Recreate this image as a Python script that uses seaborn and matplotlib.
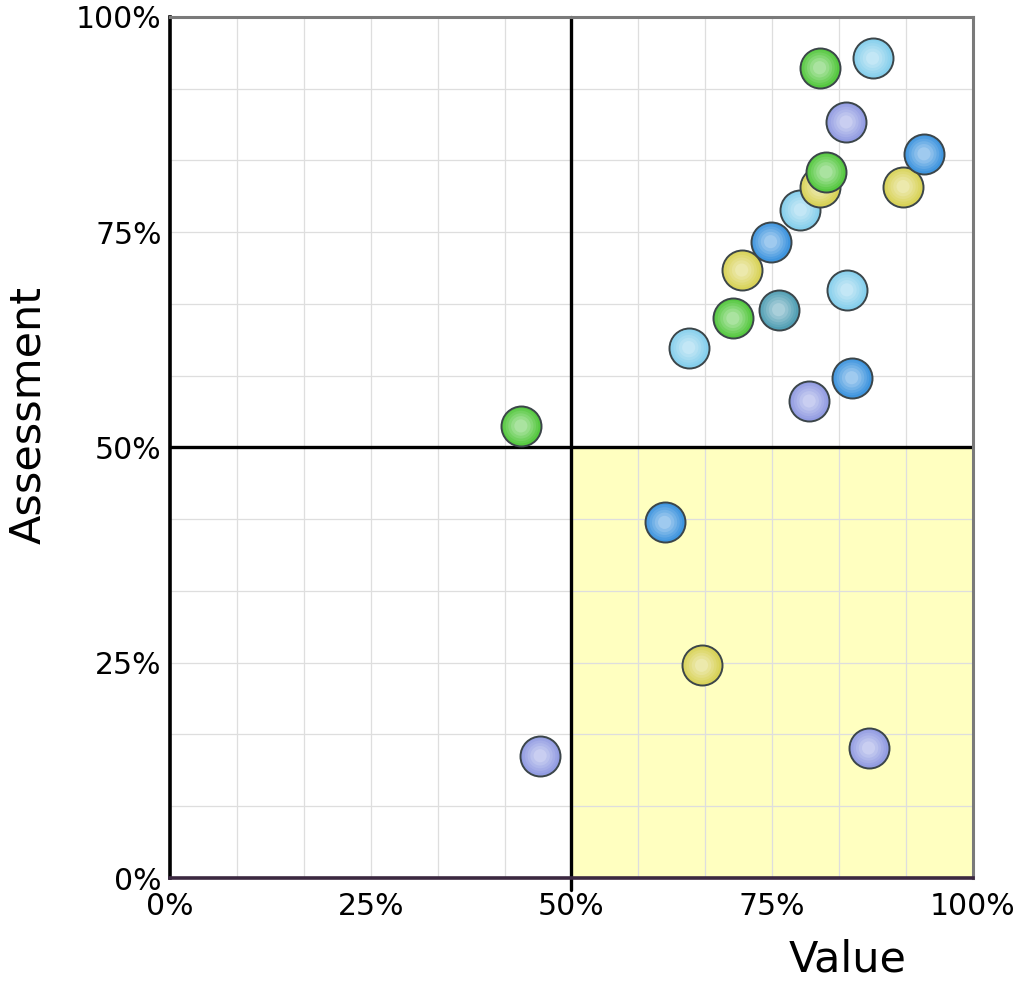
import numpy as np
import pandas as pd
import matplotlib as mpl
import matplotlib.pyplot as plt
import seaborn as sns
from matplotlib.colors import to_rgb
from matplotlib.ticker import PercentFormatter

# ---- data -------------------------------------------------------------------
value = [0.437, 0.461, 0.616, 0.646, 0.662, 0.712, 0.748, 0.701, 0.758, 0.785,
         0.809, 0.817, 0.796, 0.849, 0.843, 0.870, 0.913, 0.939, 0.842, 0.809,
         0.875]
assessment = [0.525, 0.142, 0.413, 0.616, 0.247, 0.706, 0.739, 0.650, 0.660,
              0.776, 0.803, 0.820, 0.554, 0.581, 0.683, 0.151, 0.803, 0.841,
              0.878, 0.941, 0.952]
group = ["green", "lavender", "blue", "cyan", "yellow", "yellow", "blue",
         "green", "teal", "cyan", "yellow", "green", "lavender", "blue", "cyan",
         "lavender", "yellow", "blue", "lavender", "green", "cyan"]

THRESHOLD = 0.5
ticks_major = [0, 0.25, 0.5, 0.75, 1.0]
n_grid = 12

palette = {
    "green": "#55c840",
    "cyan": "#86cfec",
    "blue": "#3f95de",
    "lavender": "#929ce2",
    "yellow": "#d8d258",
    "teal": "#529fb4",
}

df = pd.DataFrame({"value": value, "assessment": assessment, "group": group})


def lighten(c, amt):
    r = np.array(to_rgb(c))
    return tuple(r + (1 - r) * amt)


sns.set_style("white")
plt.rcParams["font.family"] = ["DejaVu Sans"]
plt.rcParams["text.color"] = "black"
plt.rcParams["axes.labelcolor"] = "black"
plt.rcParams["xtick.color"] = "black"
plt.rcParams["ytick.color"] = "black"

fig = plt.figure(figsize=(10.19, 9.83), dpi=100)
ax = fig.add_axes([0.1668, 0.1068, 0.788, 0.876])

ax.set_xlim(0, 1)
ax.set_ylim(0, 1)

# highlighted quadrant (high value, low assessment)
ax.axvspan(THRESHOLD, 1, ymin=0, ymax=THRESHOLD, color="#ffffc0", zorder=0)

grid = np.linspace(0, 1, n_grid + 1)
ax.set_xticks(ticks_major)
ax.set_yticks(ticks_major)
ax.set_xticks(grid, minor=True)
ax.set_yticks(grid, minor=True)
ax.grid(which="both", color="#dedede", linewidth=0.9, zorder=1)
ax.set_axisbelow(True)

ax.axvline(THRESHOLD, ymin=-0.014, color="black", linewidth=2.4, zorder=3, clip_on=False)
ax.axhline(THRESHOLD, color="black", linewidth=2.4, zorder=3)

# glossy bubbles: each point drawn as stacked discs so overlaps stay clean
layers = [(830, 0.0, True), (640, 0.08, False), (480, 0.17, False),
          (330, 0.27, False), (200, 0.38, False), (90, 0.5, False)]
for i, row in df.iterrows():
    base = palette[row["group"]]
    for j, (size, amt, edge) in enumerate(layers):
        sns.scatterplot(
            data=df.iloc[[i]], x="value", y="assessment", ax=ax,
            color=lighten(base, amt), s=size,
            edgecolor="#3b4549" if edge else "none",
            linewidth=1.4 if edge else 0,
            zorder=10 + i * 10 + j, legend=False,
        )

ax.xaxis.set_major_formatter(PercentFormatter(1.0, decimals=0))
ax.yaxis.set_major_formatter(PercentFormatter(1.0, decimals=0))
ax.tick_params(which="both", length=0, labelsize=21.5)
ax.tick_params(axis="x", pad=10)
ax.tick_params(axis="y", pad=6)

for side in ["top", "right"]:
    ax.spines[side].set_color("#7a7a7a")
    ax.spines[side].set_linewidth(2.2)
ax.spines["left"].set_color("black")
ax.spines["left"].set_linewidth(2.6)
ax.spines["bottom"].set_color("#3b2840")
ax.spines["bottom"].set_linewidth(2.6)
for s in ax.spines.values():
    s.set_zorder(5)

ax.set_xlabel("Value", fontsize=31)
ax.set_ylabel("Assessment", fontsize=31)
ax.xaxis.set_label_coords(0.844, -0.07)
ax.yaxis.set_label_coords(-0.15, 0.538)

fig.savefig("out.png", dpi=100)
